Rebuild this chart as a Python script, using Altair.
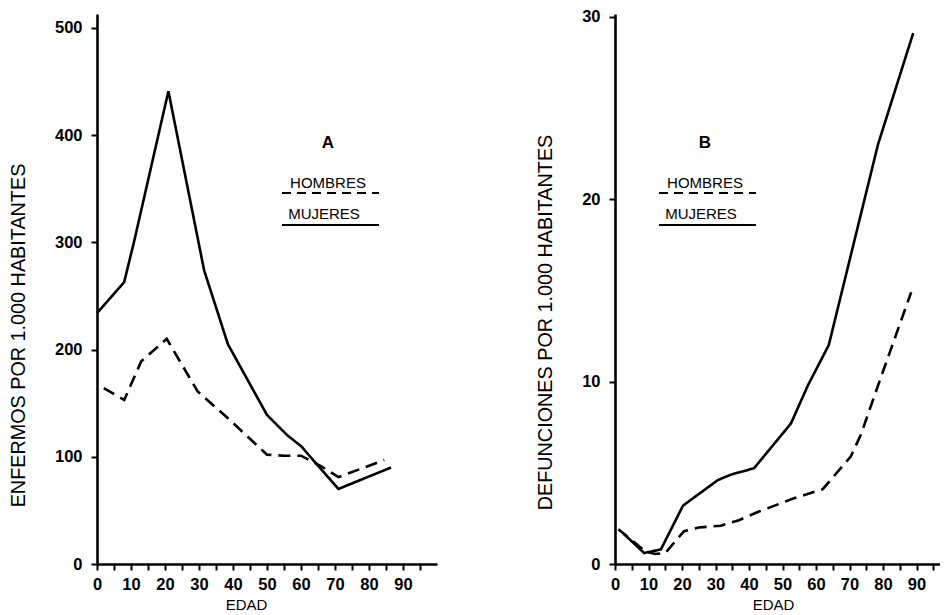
import altair as alt
import pandas as pd

# Panel A: enfermos por 1.000 habitantes
age_a_muj = [0, 8, 11, 21, 31.5, 38.5, 50, 56, 60, 71, 86.5]
val_a_muj = [234, 263, 302, 441, 274, 205, 139, 120, 110, 70, 90]
age_a_hom = [2, 8, 13, 20.5, 29.6, 38.5, 50, 55, 60, 66, 71, 84.5]
val_a_hom = [164, 153, 189, 210, 161, 136, 102, 101, 101, 91, 81, 97]

# Panel B: defunciones por 1.000 habitantes
age_b_muj = [2.7, 8.7, 13.7, 20.3, 30.7, 34.6, 41.5, 52.5, 57.6, 63.8, 78.5, 89]
val_b_muj = [1.64, 0.6, 0.8, 3.2, 4.6, 4.9, 5.25, 7.7, 9.8, 12, 23, 29.1]
age_b_hom = [1, 3, 9, 12, 15, 20.6, 25, 31.6, 37, 42.6, 53.4, 62, 70.4, 73.4, 79.3, 88.4]
val_b_hom = [1.9, 1.6, 0.7, 0.55, 0.6, 1.8, 2.0, 2.1, 2.4, 2.85, 3.6, 4.1, 5.9, 7.1, 10.2, 14.9]

series = ["HOMBRES", "MUJERES"]
x_ticks = list(range(0, 100, 5))
y_ticks_a = [0, 100, 200, 300, 400, 500]
y_ticks_b = [0, 10, 20, 30]

FONT = "Liberation Sans"


def frame(ah, vh, am, vm):
    rows = [{"edad": a, "valor": v, "sexo": "HOMBRES", "i": i} for i, (a, v) in enumerate(zip(ah, vh))]
    rows += [{"edad": a, "valor": v, "sexo": "MUJERES", "i": i} for i, (a, v) in enumerate(zip(am, vm))]
    return pd.DataFrame(rows)


def panel(df, xdom, width, ydom, yvals, ytitle, letter, title_y, edad_x, lx):
    x = alt.X(
        "edad:Q",
        scale=alt.Scale(domain=xdom, nice=False, zero=False),
        axis=alt.Axis(
            values=x_ticks,
            labelExpr="datum.value % 10 == 0 && datum.value <= 90 ? datum.label : ''",
            title="EDAD",
            titleFontSize=15,
            titleX=edad_x,
            labelPadding=6,
            titlePadding=5,
        ),
    )
    y = alt.Y(
        "valor:Q",
        scale=alt.Scale(domain=ydom, nice=False, zero=True),
        axis=alt.Axis(
            values=yvals,
            title=ytitle,
            titleFontSize=19.8,
            labelPadding=9,
            titlePadding=26,
            titleY=title_y,
        ),
    )
    lines = alt.Chart(df).mark_line(color="black", strokeWidth=2.6).encode(
        x=x,
        y=y,
        order="i:Q",
        strokeDash=alt.StrokeDash(
            "sexo:N",
            scale=alt.Scale(domain=series, range=[[12, 7], [1, 0]]),
            legend=None,
        ),
    )
    txt = dict(font=FONT, color="black", align="center", baseline="middle")
    t_letter = alt.Chart().mark_text(fontSize=17, fontWeight="bold", **txt).encode(
        x=alt.value(lx + 46), y=alt.value(129), text=alt.value(letter))
    t_h = alt.Chart().mark_text(fontSize=15, **txt).encode(
        x=alt.value(lx + 46), y=alt.value(169), text=alt.value("HOMBRES"))
    t_m = alt.Chart().mark_text(fontSize=15, **txt).encode(
        x=alt.value(lx + 42), y=alt.value(200), text=alt.value("MUJERES"))
    r_h = alt.Chart().mark_rule(color="black", strokeWidth=2, strokeDash=[9, 6]).encode(
        x=alt.value(lx), x2=alt.value(lx + 97), y=alt.value(179))
    r_m = alt.Chart().mark_rule(color="black", strokeWidth=2).encode(
        x=alt.value(lx), x2=alt.value(lx + 97), y=alt.value(211))
    return alt.layer(lines, t_letter, t_h, t_m, r_h, r_m).properties(width=width, height=550)


df_a = frame(age_a_hom, val_a_hom, age_a_muj, val_a_muj)
df_b = frame(age_b_hom, val_b_hom, age_b_muj, val_b_muj)

pa = panel(df_a, [0, 100], 340, [0, 513], y_ticks_a, "ENFERMOS POR 1.000 HABITANTES", "A", 321, 149, 185)
pb = panel(df_b, [0, 97], 325, [0, 30.15], y_ticks_b, "DEFUNCIONES POR 1.000 HABITANTES", "B", 308, 158, 44)

chart = alt.hconcat(pa, pb, spacing=178, bounds="flush").properties(
    padding={"left": 0, "top": 0, "right": 0, "bottom": 0}
).configure_view(stroke=None).configure_axis(
    grid=False,
    domainColor="black",
    domainWidth=2.6,
    tickColor="black",
    tickWidth=2,
    tickSize=6,
    labelColor="black",
    titleColor="black",
    labelFont=FONT,
    titleFont=FONT,
    labelFontWeight="bold",
    labelFontSize=16.5,
    titleFontWeight="normal",
    labelFlush=False,
    labelOverlap=False,
)

chart.save("out.html", embed_options={"renderer": "svg", "actions": False})
